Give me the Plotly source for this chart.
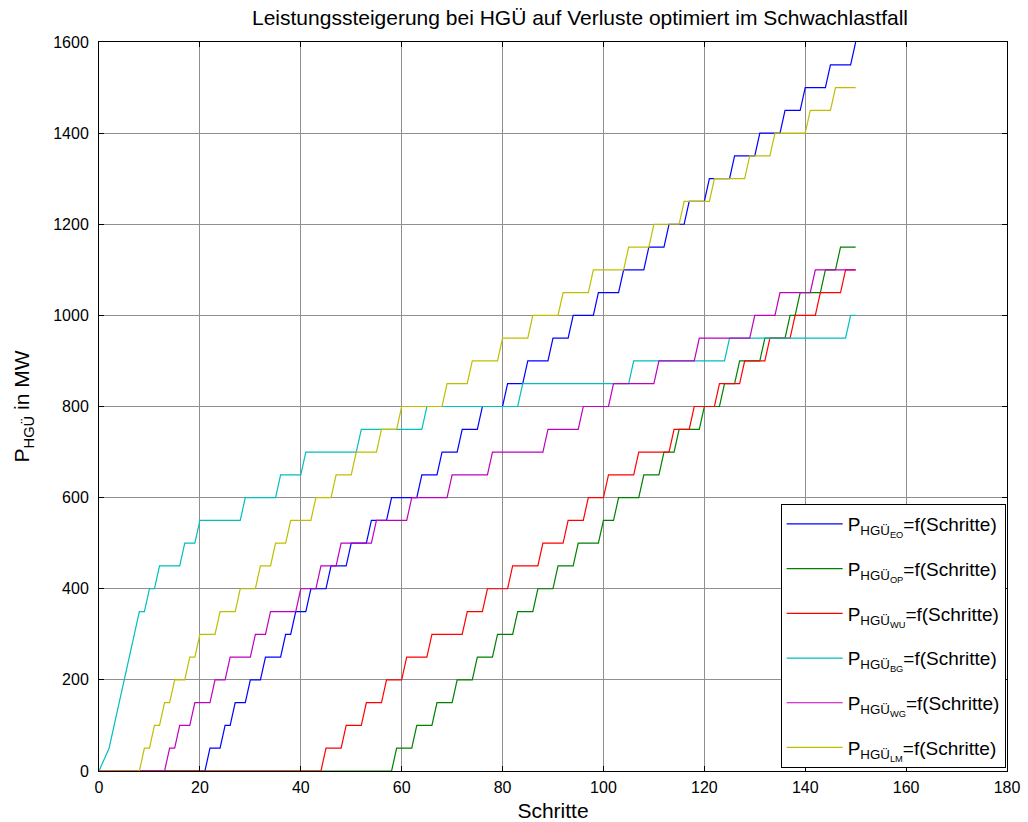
import plotly.graph_objects as go

# Schritt (step) at which each further 50 MW level is first reached
STEP_MW = 50
EO_REACH = [22, 25, 27, 30, 33, 37, 39, 42, 46, 50, 54, 58, 64, 68, 72, 76, 81, 85, 90, 94,
            99, 104, 109, 113, 117, 121, 126, 131, 136, 140, 145, 150]
OP_REACH = [59, 63, 67, 71, 75, 79, 83, 87, 91, 95, 100, 103, 108, 112, 115, 120, 124, 127,
            132, 137, 139, 144, 147]
WU_REACH = [45, 49, 53, 57, 61, 66, 73, 77, 82, 88, 93, 97, 101, 107, 114, 118, 123, 128,
            133, 138, 143, 148]
WG_REACH = [14, 16, 19, 23, 26, 31, 34, 40, 44, 48, 55, 62, 70, 78, 89, 96, 102, 111, 119,
            130, 135, 142]
LM_REACH = [9, 11, 13, 15, 18, 20, 24, 28, 32, 35, 38, 43, 47, 51, 56, 60, 69, 74, 80, 86,
            92, 98, 105, 110, 116, 122, 129, 134, 141, 146]
# BG starts with a ramp (25 MW at step 1)
BG_REACH = [1, 2, 3, 4, 5, 6, 7, 8, 10, 12, 17, 20, 29, 36, 41, 52, 65, 84, 106, 125, 149]
BG_LEVELS = [25, 50, 100, 150, 200, 250, 300, 350, 400, 450, 500, 550, 600, 650, 700, 750,
             800, 850, 900, 950, 1000]
N_STEPS = 150

SERIES = [
    ("EO", EO_REACH, None, "rgb(0,0,255)"),
    ("OP", OP_REACH, None, "rgb(0,128,0)"),
    ("WU", WU_REACH, None, "rgb(255,0,0)"),
    ("BG", BG_REACH, BG_LEVELS, "rgb(0,191,191)"),
    ("WG", WG_REACH, None, "rgb(191,0,191)"),
    ("LM", LM_REACH, None, "rgb(191,191,0)"),
]


def build(reach, levels):
    if levels is None:
        levels = [STEP_MW * (k + 1) for k in range(len(reach))]
    xs = list(range(N_STEPS + 1))
    ys = []
    for i in xs:
        v = 0
        for r, lv in zip(reach, levels):
            if r <= i:
                v = lv
        ys.append(v)
    return xs, ys


fig = go.Figure()
for k, (name, reach, levels, color) in enumerate(SERIES):
    xs, ys = build(reach, levels)
    fig.add_trace(go.Scatter(
        x=xs, y=ys, mode="lines",
        line=dict(color=color, width=1.2),
        name="P<sub>HGÜ<sub>%s</sub></sub>=f(Schritte)" % name,
        legendgroup="g%d" % k,
    ))

font_family = "Arial, Liberation Sans, sans-serif"
axis_common = dict(
    showline=True, linecolor="black", linewidth=1, mirror="ticks",
    ticks="inside", ticklen=5, tickcolor="black", tickwidth=1,
    showgrid=True, gridcolor="#8f8f8f", gridwidth=1,
    zeroline=False, automargin=False,
    tickfont=dict(family=font_family, size=16, color="black"),
)

fig.update_layout(
    width=1028, height=822,
    margin=dict(l=99, r=21, t=42, b=51),
    paper_bgcolor="white", plot_bgcolor="white",
    font=dict(family=font_family, color="black"),
    title=dict(text="Leistungssteigerung bei HGÜ auf Verluste optimiert im Schwachlastfall",
               x=0.5642, xanchor="center", y=0.978, yanchor="middle",
               font=dict(size=21, family=font_family, color="black")),
    xaxis=dict(range=[0, 180], tick0=0, dtick=20, ticklabelstandoff=2,
               title=dict(text="Schritte", font=dict(size=21), standoff=9),
               **axis_common),
    yaxis=dict(range=[0, 1600], tick0=0, dtick=200, ticklabelstandoff=6,
               title=dict(text="P<sub>HGÜ</sub> in MW", font=dict(size=21), standoff=17),
               **axis_common),
    showlegend=True,
    legend=dict(x=0.9985, xanchor="right", y=0.004, yanchor="bottom",
                bgcolor="white", bordercolor="black", borderwidth=1,
                font=dict(size=19, family=font_family, color="black"),
                tracegroupgap=17, itemwidth=56),
)

fig.write_html("out.html")
